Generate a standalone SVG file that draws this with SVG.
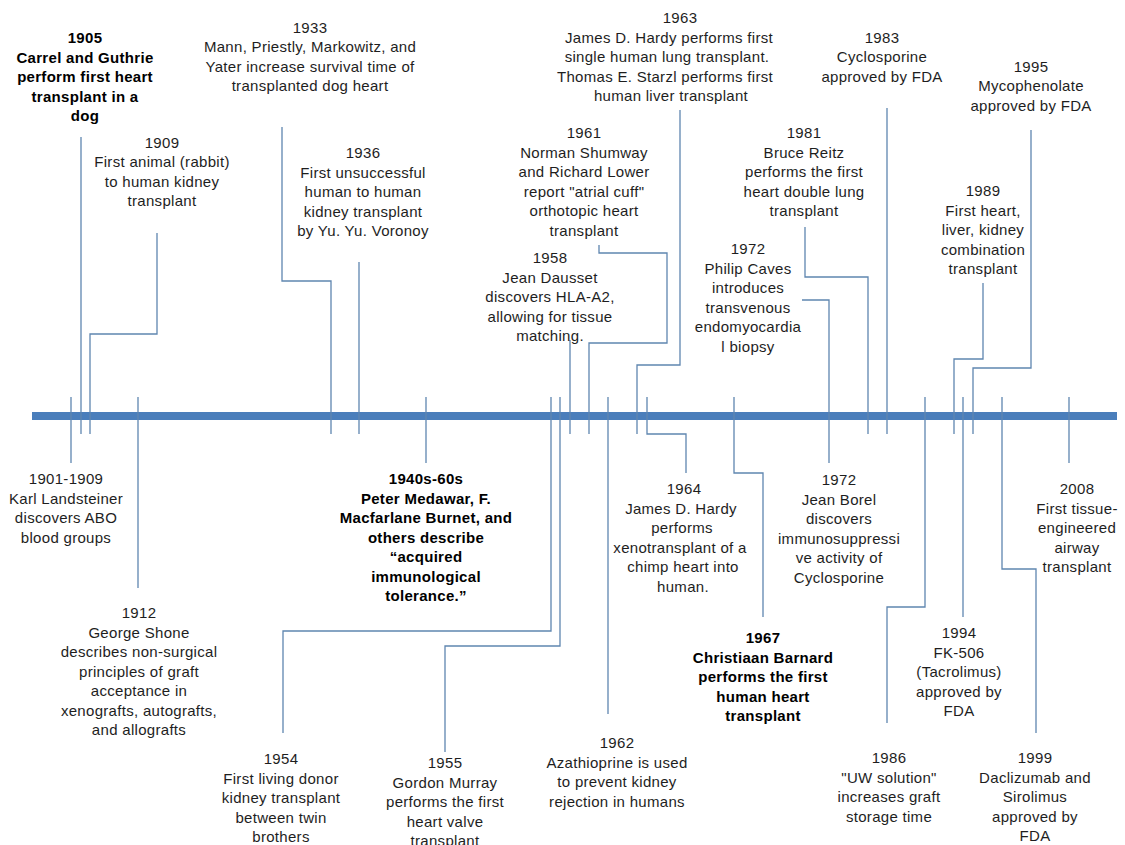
<svg xmlns="http://www.w3.org/2000/svg" width="1125" height="845" viewBox="0 0 1125 845">
<style>
text{font-family:"Liberation Sans",Arial,sans-serif;font-size:15px;fill:#1e1e1e;text-anchor:middle;letter-spacing:0.3px}
.b{font-weight:bold;fill:#000}
.c{fill:none;stroke:#5f86b0;stroke-width:1.3}
</style>
<rect width="1125" height="845" fill="#fff"/>
<rect id="axis" x="32" y="412" width="1085" height="8" fill="#4a7ebb"/>
<g id="connectors" class="c">
<path class="c" d="M71,397V463"/>
<path class="c" d="M81,137V434"/>
<path class="c" d="M90,434V334H157V233"/>
<path class="c" d="M138,397V588"/>
<path class="c" d="M331,434V281H282V127"/>
<path class="c" d="M359,262V434"/>
<path class="c" d="M426,397V463"/>
<path class="c" d="M551,397V631H283V733"/>
<path class="c" d="M560,397V646H445V752"/>
<path class="c" d="M570,340V434"/>
<path class="c" d="M589,434V343H667V253H599V245"/>
<path class="c" d="M608,397V714"/>
<path class="c" d="M637,434V365H680V110"/>
<path class="c" d="M647,397V434H686V473"/>
<path class="c" d="M734,397V473H763V617"/>
<path class="c" d="M802,300H829V463"/>
<path class="c" d="M868,434V277H805V227"/>
<path class="c" d="M887,108V434"/>
<path class="c" d="M925,397V607H887V723"/>
<path class="c" d="M954,434V359H983V283"/>
<path class="c" d="M963,397V617"/>
<path class="c" d="M973,434V368H1031V130"/>
<path class="c" d="M1002,397V569H1036V733"/>
<path class="c" d="M1069,397V463"/>
</g>
<g id="n1901"><text><tspan x="66" y="484">1901-1909</tspan><tspan x="66" y="503.5">Karl Landsteiner</tspan><tspan x="66" y="523">discovers ABO</tspan><tspan x="66" y="542.5">blood groups</tspan></text></g>
<g id="n1905"><text class="b"><tspan x="85" y="43">1905</tspan><tspan x="85" y="62.5">Carrel and Guthrie</tspan><tspan x="85" y="82">perform first heart</tspan><tspan x="85" y="101.5">transplant in a</tspan><tspan x="85" y="121">dog</tspan></text></g>
<g id="n1909"><text><tspan x="162" y="147.5">1909</tspan><tspan x="162" y="167">First animal (rabbit)</tspan><tspan x="162" y="186.5">to human kidney</tspan><tspan x="162" y="206">transplant</tspan></text></g>
<g id="n1912"><text><tspan x="139" y="618">1912</tspan><tspan x="139" y="637.5">George Shone</tspan><tspan x="139" y="657">describes non-surgical</tspan><tspan x="139" y="676.5">principles of graft</tspan><tspan x="139" y="696">acceptance in</tspan><tspan x="139" y="715.5">xenografts, autografts,</tspan><tspan x="139" y="735">and allografts</tspan></text></g>
<g id="n1933"><text><tspan x="310" y="32.5">1933</tspan><tspan x="310" y="52">Mann, Priestly, Markowitz, and</tspan><tspan x="310" y="71.5">Yater increase survival time of</tspan><tspan x="310" y="91">transplanted dog heart</tspan></text></g>
<g id="n1936"><text><tspan x="363" y="158">1936</tspan><tspan x="363" y="177.5">First unsuccessful</tspan><tspan x="363" y="197">human to human</tspan><tspan x="363" y="216.5">kidney transplant</tspan><tspan x="363" y="236">by Yu. Yu. Voronoy</tspan></text></g>
<g id="n1940s"><text class="b"><tspan x="426" y="484">1940s-60s</tspan><tspan x="426" y="503.5">Peter Medawar, F.</tspan><tspan x="426" y="523">Macfarlane Burnet, and</tspan><tspan x="426" y="542.5">others describe</tspan><tspan x="426" y="562">“acquired</tspan><tspan x="426" y="581.5">immunological</tspan><tspan x="426" y="601">tolerance.”</tspan></text></g>
<g id="n1954"><text><tspan x="281" y="764">1954</tspan><tspan x="281" y="783.5">First living donor</tspan><tspan x="281" y="803">kidney transplant</tspan><tspan x="281" y="822.5">between twin</tspan><tspan x="281" y="842">brothers</tspan></text></g>
<g id="n1955"><text><tspan x="445" y="768">1955</tspan><tspan x="445" y="787.5">Gordon Murray</tspan><tspan x="445" y="807">performs the first</tspan><tspan x="445" y="826.5">heart valve</tspan><tspan x="445" y="846">transplant</tspan></text></g>
<g id="n1958"><text><tspan x="550" y="263">1958</tspan><tspan x="550" y="282.5">Jean Dausset</tspan><tspan x="550" y="302">discovers HLA-A2,</tspan><tspan x="550" y="321.5">allowing for tissue</tspan><tspan x="550" y="341">matching.</tspan></text></g>
<g id="n1961"><text><tspan x="584" y="138">1961</tspan><tspan x="584" y="157.5">Norman Shumway</tspan><tspan x="584" y="177">and Richard Lower</tspan><tspan x="584" y="196.5">report "atrial cuff"</tspan><tspan x="584" y="216">orthotopic heart</tspan><tspan x="584" y="235.5">transplant</tspan></text></g>
<g id="n1962"><text><tspan x="617" y="748">1962</tspan><tspan x="617" y="767.5">Azathioprine is used</tspan><tspan x="617" y="787">to prevent kidney</tspan><tspan x="617" y="806.5">rejection in humans</tspan></text></g>
<g id="n1963"><text><tspan x="680" y="23">1963</tspan><tspan x="669" y="42.5">James  D. Hardy performs first</tspan><tspan x="667" y="62">single human lung transplant.</tspan><tspan x="665" y="81.5">Thomas E. Starzl performs first</tspan><tspan x="671" y="101">human liver transplant</tspan></text></g>
<g id="n1964"><text><tspan x="684" y="494">1964</tspan><tspan x="681" y="513.5">James  D. Hardy</tspan><tspan x="682" y="533">performs</tspan><tspan x="680" y="552.5">xenotransplant of a</tspan><tspan x="683" y="572">chimp heart into</tspan><tspan x="683" y="591.5">human.</tspan></text></g>
<g id="n1967"><text class="b"><tspan x="763" y="643">1967</tspan><tspan x="763" y="662.5">Christiaan Barnard</tspan><tspan x="763" y="682">performs the first</tspan><tspan x="763" y="701.5">human heart</tspan><tspan x="763" y="721">transplant</tspan></text></g>
<g id="n1972a"><text><tspan x="748" y="254">1972</tspan><tspan x="748" y="273.5">Philip Caves</tspan><tspan x="748" y="293">introduces</tspan><tspan x="748" y="312.5">transvenous</tspan><tspan x="748" y="332">endomyocardia</tspan><tspan x="748" y="351.5">l biopsy</tspan></text></g>
<g id="n1972b"><text><tspan x="839" y="485">1972</tspan><tspan x="839" y="504.5">Jean Borel</tspan><tspan x="839" y="524">discovers</tspan><tspan x="839" y="543.5">immunosuppressi</tspan><tspan x="839" y="563">ve activity of</tspan><tspan x="839" y="582.5">Cyclosporine</tspan></text></g>
<g id="n1981"><text><tspan x="804" y="138">1981</tspan><tspan x="804" y="157.5">Bruce Reitz</tspan><tspan x="804" y="177">performs the first</tspan><tspan x="804" y="196.5">heart double lung</tspan><tspan x="804" y="216">transplant</tspan></text></g>
<g id="n1983"><text><tspan x="882" y="43">1983</tspan><tspan x="882" y="62">Cyclosporine</tspan><tspan x="882" y="81.5">approved by FDA</tspan></text></g>
<g id="n1986"><text><tspan x="889" y="763">1986</tspan><tspan x="889" y="782.5">"UW solution"</tspan><tspan x="889" y="802">increases graft</tspan><tspan x="889" y="821.5">storage time</tspan></text></g>
<g id="n1989"><text><tspan x="983" y="196">1989</tspan><tspan x="983" y="215.5">First heart,</tspan><tspan x="983" y="235">liver, kidney</tspan><tspan x="983" y="254.5">combination</tspan><tspan x="983" y="274">transplant</tspan></text></g>
<g id="n1994"><text><tspan x="959" y="638">1994</tspan><tspan x="959" y="657.5">FK-506</tspan><tspan x="959" y="677">(Tacrolimus)</tspan><tspan x="959" y="696.5">approved by</tspan><tspan x="959" y="716">FDA</tspan></text></g>
<g id="n1995"><text><tspan x="1031" y="72">1995</tspan><tspan x="1031" y="91">Mycophenolate</tspan><tspan x="1031" y="111">approved by FDA</tspan></text></g>
<g id="n1999"><text><tspan x="1035" y="763">1999</tspan><tspan x="1035" y="782.5">Daclizumab and</tspan><tspan x="1035" y="802">Sirolimus</tspan><tspan x="1035" y="821.5">approved by</tspan><tspan x="1035" y="841">FDA</tspan></text></g>
<g id="n2008"><text><tspan x="1077" y="494">2008</tspan><tspan x="1077" y="513.5">First tissue-</tspan><tspan x="1077" y="533">engineered</tspan><tspan x="1077" y="552.5">airway</tspan><tspan x="1077" y="572">transplant</tspan></text></g>
</svg>
